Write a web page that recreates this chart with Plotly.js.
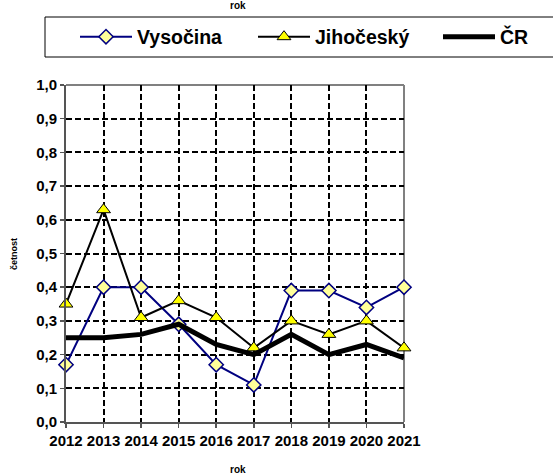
<!DOCTYPE html>
<html>
<head>
<meta charset="utf-8">
<script src="https://cdn.plot.ly/plotly-3.0.1.min.js"></script>
<style>html,body{margin:0;padding:0;background:#fff;}#chart{width:553px;height:474px;}</style>
</head>
<body>
<div id="chart"></div>
<script>
const years = [2012, 2013, 2014, 2015, 2016, 2017, 2018, 2019, 2020, 2021];
const vysocina = [0.17, 0.40, 0.40, 0.29, 0.17, 0.11, 0.39, 0.39, 0.34, 0.40];
const jihocesky = [0.35, 0.63, 0.31, 0.36, 0.31, 0.22, 0.30, 0.26, 0.30, 0.22];
const cr = [0.25, 0.25, 0.26, 0.29, 0.23, 0.20, 0.26, 0.20, 0.23, 0.19];
const seriesNames = ['Vysočina', 'Jihočeský', 'ČR'];
const yTicks = [0, 0.1, 0.2, 0.3, 0.4, 0.5, 0.6, 0.7, 0.8, 0.9, 1.0];

const FONT = 'Liberation Sans, Arial, sans-serif';
const W = 553, H = 474;
const cx = px => px / W;
const cy = px => 1 - px / H;

const traces = [
  {
    x: years, y: vysocina, name: seriesNames[0], type: 'scatter', mode: 'lines+markers',
    line: {color: '#000080', width: 2},
    marker: {symbol: 'diamond', size: 11, color: '#FFFF99', line: {color: '#000080', width: 1.5}},
    cliponaxis: false, legend: 'legend'
  },
  {
    x: years, y: jihocesky, name: seriesNames[1], type: 'scatter', mode: 'lines+markers',
    line: {color: '#000000', width: 2},
    marker: {symbol: 'triangle-up', size: 12, color: '#FFFF00', line: {color: '#000000', width: 1}},
    cliponaxis: false, legend: 'legend2'
  },
  {
    x: years, y: cr, name: seriesNames[2], type: 'scatter', mode: 'lines',
    line: {color: '#000000', width: 5},
    cliponaxis: false, legend: 'legend3'
  }
];

const legendBase = {
  orientation: 'h', xref: 'container', yref: 'container', xanchor: 'left', yanchor: 'middle',
  itemwidth: 52, borderwidth: 0, bgcolor: 'rgba(0,0,0,0)',
  font: {family: FONT, size: 19.5, color: '#000', weight: 'bold'}
};

const layout = {
  width: W, height: H,
  margin: {l: 66, r: 149, t: 85, b: 52},
  paper_bgcolor: '#fff', plot_bgcolor: '#fff',
  separators: ', ',
  showlegend: true,
  legend: Object.assign({}, legendBase, {x: cx(75), y: cy(37)}),
  legend2: Object.assign({}, legendBase, {x: cx(253), y: cy(37)}),
  legend3: Object.assign({}, legendBase, {x: cx(438), y: cy(37)}),
  xaxis: {
    range: [2012, 2021], tickmode: 'array', tickvals: years, ticktext: years.map(String),
    showgrid: true, gridcolor: '#000', gridwidth: 2, griddash: '6px,3px',
    showline: true, linecolor: '#555', linewidth: 2, zeroline: false,
    ticks: 'outside', ticklen: 4, tickwidth: 1.5, tickcolor: '#555',
    tickfont: {family: FONT, size: 15, color: '#000', weight: 'bold'},
    fixedrange: true
  },
  yaxis: {
    range: [0, 1.0], tickmode: 'array', tickvals: yTicks, ticktext: yTicks.map(v => v.toFixed(1).replace('.', ',')),
    showgrid: true, gridcolor: '#000', gridwidth: 2, griddash: '6px,3px',
    showline: true, linecolor: '#555', linewidth: 2, zeroline: false,
    ticks: 'outside', ticklen: 4, tickwidth: 1.5, tickcolor: '#555',
    tickfont: {family: FONT, size: 15, color: '#000', weight: 'bold'},
    fixedrange: true
  },
  shapes: [
    {type: 'line', xref: 'paper', yref: 'paper', x0: 0, x1: 1, y0: 1, y1: 1, line: {color: '#808080', width: 2}, layer: 'between'},
    {type: 'line', xref: 'paper', yref: 'paper', x0: 1, x1: 1, y0: 0, y1: 1, line: {color: '#808080', width: 2}, layer: 'between'},
    {type: 'rect', xref: 'paper', yref: 'paper', x0: (45 - 66) / 338, x1: 1.8, y0: (422 - 57) / 337, y1: (422 - 17) / 337, line: {color: '#000', width: 1}, fillcolor: 'rgba(0,0,0,0)', layer: 'above'}
  ],
  annotations: [
    {text: 'rok', xref: 'paper', yref: 'paper', x: (238 - 66) / 338, y: (422 - 5) / 337, showarrow: false, xanchor: 'center', yanchor: 'middle', font: {family: FONT, size: 10, color: '#000', weight: 'bold'}},
    {text: 'rok', xref: 'paper', yref: 'paper', x: (238 - 66) / 338, y: (422 - 469) / 337, showarrow: false, xanchor: 'center', yanchor: 'middle', font: {family: FONT, size: 10, color: '#000', weight: 'bold'}},
    {text: 'četnost', xref: 'paper', yref: 'paper', x: (14 - 66) / 338, y: (422 - 254) / 337, showarrow: false, textangle: -90, xanchor: 'center', yanchor: 'middle', font: {family: FONT, size: 9, color: '#000', weight: 'bold'}}
  ]
};

Plotly.newPlot('chart', traces, layout, {displayModeBar: false, staticPlot: true});
</script>
</body>
</html>
